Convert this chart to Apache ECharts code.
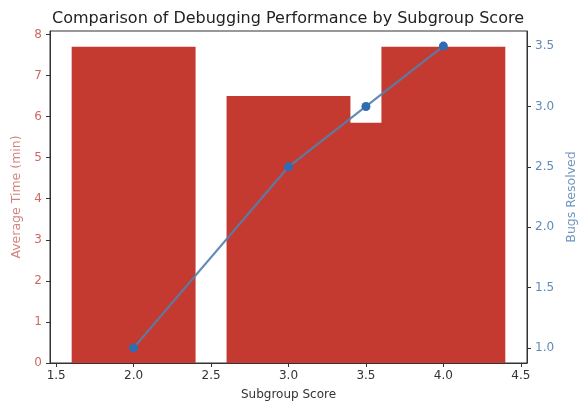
<!DOCTYPE html>
<html>
<head>
<meta charset="utf-8">
<script src="https://cdn.jsdelivr.net/npm/echarts@6/dist/echarts.min.js"></script>
<style>html,body{margin:0;padding:0;background:#fff}#c{width:586px;height:403px}</style>
</head>
<body>
<div id="c"></div>
<script>
var scores = [2.0, 3.0, 3.5, 4.0];
var avgTime = [7.7, 6.5, 5.85, 7.7];
var bugsResolved = [1.0, 2.5, 3.0, 3.5];
var xTicks = [1.5, 2.0, 2.5, 3.0, 3.5, 4.0, 4.5];
var yLeftTicks = [0, 1, 2, 3, 4, 5, 6, 7, 8];
var yRightTicks = [1.0, 1.5, 2.0, 2.5, 3.0, 3.5];
var barWidthUnits = 0.8;

var font = 'DejaVu Sans';
var chart = echarts.init(document.getElementById('c'), null, {renderer: 'canvas'});

var barData = scores.map(function (s, i) { return [s, avgTime[i]]; });
var lineData = scores.map(function (s, i) { return [s, bugsResolved[i]]; });

function fmt1(v) { return Number(v).toFixed(1); }

chart.setOption({
  animation: false,
  backgroundColor: '#fff',
  title: {
    text: 'Comparison of Debugging Performance by Subgroup Score',
    left: 47, top: 6,
    textStyle: {fontFamily: font, fontSize: 16, fontWeight: 'normal', color: '#222'}
  },
  grid: {left: 50, right: 59, top: 31, bottom: 40, show: true, borderColor: '#333', borderWidth: 1, backgroundColor: 'transparent', containLabel: false, outerBoundsMode: 'none'},
  xAxis: {
    type: 'value', min: 1.46, max: 4.54,
    name: 'Subgroup Score', nameLocation: 'middle', nameGap: 26,
    nameTextStyle: {fontFamily: font, fontSize: 12, color: '#333'},
    axisLine: {show: true, onZero: false, lineStyle: {color: '#333', width: 1}},
    axisTick: {show: true, length: 4, lineStyle: {color: '#333'}, customValues: xTicks},
    axisLabel: {fontFamily: font, fontSize: 12, color: '#333', margin: 7, customValues: xTicks, formatter: fmt1},
    splitLine: {show: false}
  },
  yAxis: [{
    type: 'value', min: 0, max: 8.085, position: 'left',
    name: 'Average Time (min)', nameLocation: 'middle', nameGap: 25, nameRotate: 90,
    nameTextStyle: {fontFamily: font, fontSize: 12.5, color: '#d4837e'},
    axisLine: {show: true, lineStyle: {color: '#333', width: 1}},
    axisTick: {show: true, length: 4, lineStyle: {color: '#333'}, customValues: yLeftTicks},
    axisLabel: {fontFamily: font, fontSize: 12, color: '#cc6a64', margin: 8, customValues: yLeftTicks},
    splitLine: {show: false}
  }, {
    type: 'value', min: 0.875, max: 3.625, position: 'right',
    name: 'Bugs Resolved', nameLocation: 'middle', nameGap: 37, nameRotate: 90,
    nameTextStyle: {fontFamily: font, fontSize: 12.5, color: '#6f96bd'},
    axisLine: {show: true, lineStyle: {color: '#333', width: 1}},
    axisTick: {show: true, length: 4, lineStyle: {color: '#333'}, customValues: yRightTicks},
    axisLabel: {fontFamily: font, fontSize: 12, color: '#5f8bb6', margin: 8, customValues: yRightTicks, formatter: fmt1},
    splitLine: {show: false}
  }],
  series: [{
    type: 'custom',
    yAxisIndex: 0,
    data: barData,
    renderItem: function (params, api) {
      var x = api.value(0), y = api.value(1);
      var p1 = api.coord([x - barWidthUnits / 2, y]);
      var p2 = api.coord([x + barWidthUnits / 2, 0]);
      return {
        type: 'rect',
        shape: {x: p1[0], y: p1[1], width: p2[0] - p1[0], height: p2[1] - p1[1]},
        style: {fill: '#c43a31'}
      };
    },
    z: 2
  }, {
    type: 'line',
    yAxisIndex: 1,
    data: lineData,
    symbol: 'circle', symbolSize: 9,
    lineStyle: {color: '#5480ab', width: 2.2, opacity: 0.9},
    itemStyle: {color: '#2f6cb3'},
    z: 5
  }]
});
</script>
</body>
</html>
